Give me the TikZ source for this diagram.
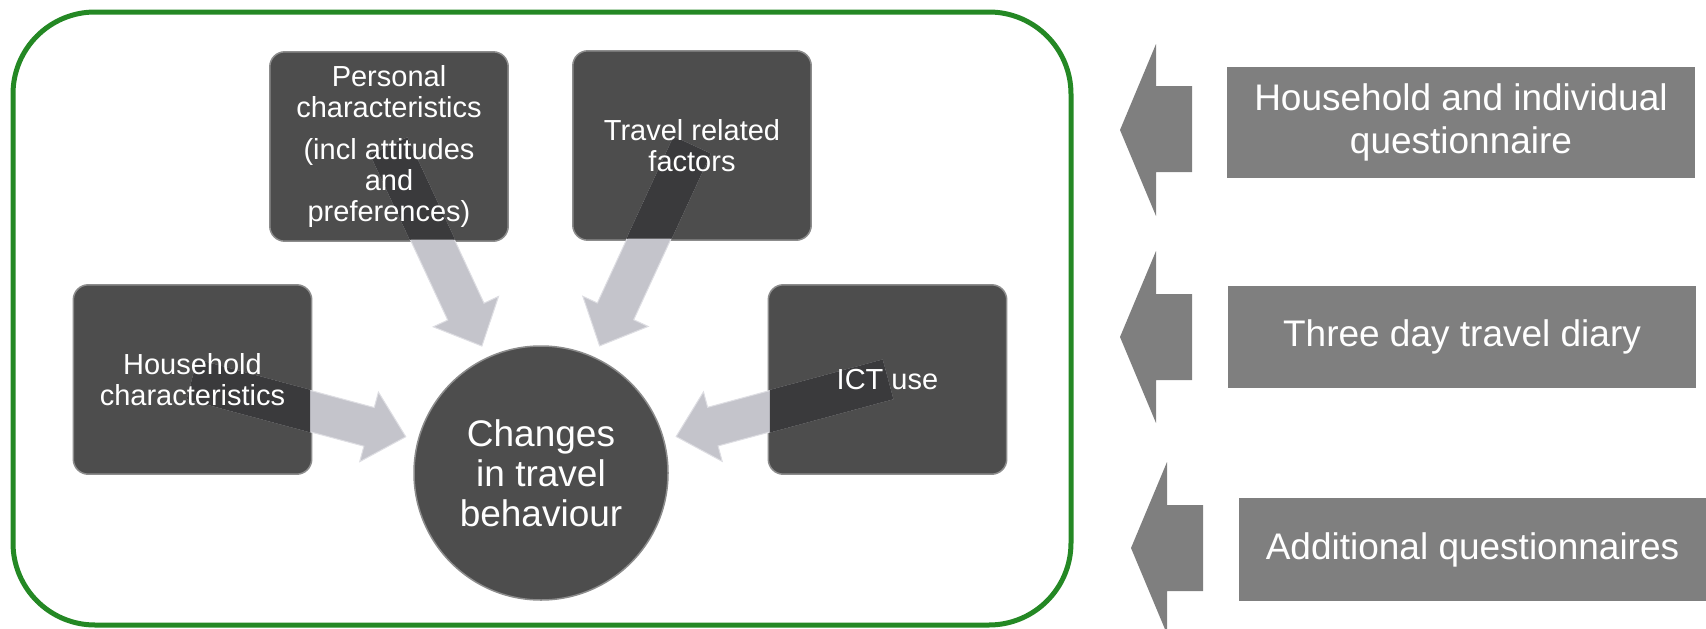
\documentclass[tikz,border=0pt]{standalone}
\usepackage{fontspec}
\setmainfont{Liberation Sans}
\usetikzlibrary{calc,backgrounds}

\definecolor{framegreen}{RGB}{36,136,36}
\definecolor{boxdark}{RGB}{77,77,77}
\definecolor{boxrim}{RGB}{140,140,140}
\definecolor{arrowlight}{RGB}{196,196,203}
\definecolor{arrowrim}{RGB}{222,222,227}
\definecolor{arrowshade}{RGB}{58,58,60}
\definecolor{srcgray}{RGB}{127,127,127}

\tikzset{
  factor/.style={minimum width=238pt, minimum height=189pt, align=center,
    text=white, inner sep=0pt, font=\fontsize{29}{31}\selectfont},
  hub/.style={circle, minimum size=254pt, align=center, text=white,
    inner sep=0pt, font=\fontsize{37}{40}\selectfont},
  source/.style={fill=srcgray, minimum width=468pt, align=center,
    text=white, inner sep=0pt, font=\fontsize{37}{43}\selectfont},
  darkfill/.style={fill=boxdark, draw=boxrim, line width=1.5pt},
  flow/.style={fill=arrowlight, draw=arrowrim, line width=1pt},
  flowshade/.style={fill=arrowshade, draw=arrowshade, line width=1.2pt},
  srcarrow/.style={fill=srcgray},
}

% block arrow from #1 (tail) to #2 (tip)
\newcommand\flowpath[2]{($(#1)!20pt!90:(#2)$)
  -- ($(#2)!38pt!(#1)!20pt!90:(#2)$)
  -- ($(#2)!38pt!(#1)!36pt!90:(#2)$)
  -- (#2)
  -- ($(#2)!38pt!(#1)!36pt!-90:(#2)$)
  -- ($(#2)!38pt!(#1)!20pt!-90:(#2)$)
  -- ($(#1)!20pt!-90:(#2)$) -- cycle}

\begin{document}
\begin{tikzpicture}[x=1pt,y=-1pt]
\useasboundingbox (0,0) rectangle (1706,629);

% factor boxes and the central circle (text on the main layer)
\node[factor] (hh)  at (192.5,379.5) {Household\\characteristics};
\node[factor] (pc)  at (389,146.5) {Personal\\characteristics\\[11pt](incl attitudes\\and\\preferences)};
\node[factor] (tr)  at (692,145.5) {Travel related\\factors};
\node[factor] (ict) at (887.5,379.5) {ICT use};
\node[hub]    (chg) at (541,473) {Changes\\in travel\\behaviour};

% data sources
\node[source, minimum height=111pt] (q1) at (1461,122.5) {Household and individual\\questionnaire};
\node[source, minimum height=102pt] (q2) at (1462,337) {Three day travel diary};
\node[source, minimum height=103pt] (q3) at (1472.5,549.5) {Additional questionnaires};

% arrow tips, just short of the circle
\coordinate (tipH) at ($(chg.center)!140pt!(hh.center)$);
\coordinate (tipP) at ($(chg.center)!140pt!(pc.center)$);
\coordinate (tipT) at ($(chg.center)!140pt!(tr.center)$);
\coordinate (tipI) at ($(chg.center)!140pt!(ict.center)$);

\begin{pgfonlayer}{background}
  % outer frame
  \draw[framegreen, line width=5pt, rounded corners=82pt] (13,12) rectangle (1071,625);

  % box and circle fills
  \foreach \b in {hh,pc,tr,ict}
    \draw[darkfill, rounded corners=15pt] (\b.south west) rectangle (\b.north east);
  \draw[darkfill] (chg.center) circle (127pt);

  % block arrows into the circle
  \path[flow] \flowpath{hh.center}{tipH};
  \path[flow] \flowpath{pc.center}{tipP};
  \path[flow] \flowpath{tr.center}{tipT};
  \path[flow] \flowpath{ict.center}{tipI};

  % the part of each arrow lying over its box is shaded dark
  \foreach \b/\t in {hh/tipH, pc/tipP, tr/tipT, ict/tipI}{
    \begin{scope}
      \clip[rounded corners=15pt] ([shift={(1.5,-1.5)}]\b.south west) rectangle ([shift={(-1.5,1.5)}]\b.north east);
      \path[flowshade] \flowpath{\b.center}{\t};
    \end{scope}
  }

  % arrows pointing from the sources towards the frame
  \fill[srcarrow] (1120,130) -- (1156,44) -- (1156,86) -- (1192,86)
    -- (1192,172) -- (1156,172) -- (1156,216) -- cycle;
  \fill[srcarrow] (1120,337) -- (1156,251) -- (1156,294) -- (1192,294)
    -- (1192,380) -- (1156,380) -- (1156,423) -- cycle;
  \fill[srcarrow] (1131,548) -- (1167,462) -- (1167,505) -- (1203,505)
    -- (1203,591) -- (1167,591) -- (1167,634) -- cycle;
\end{pgfonlayer}
\end{tikzpicture}
\end{document}
